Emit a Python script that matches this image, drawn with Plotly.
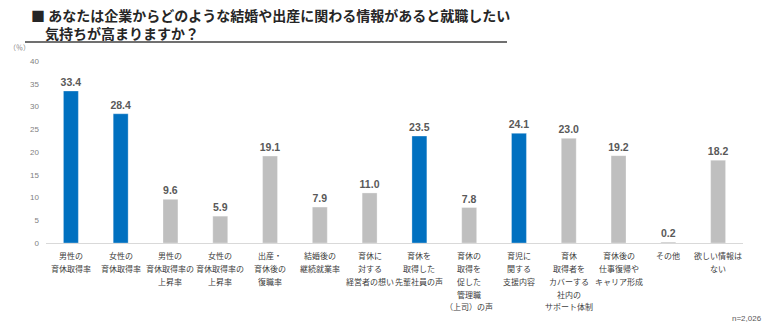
import plotly.graph_objects as go

categories = [
    "男性の\n育休取得率",
    "女性の\n育休取得率",
    "男性の\n育休取得率の\n上昇率",
    "女性の\n育休取得率の\n上昇率",
    "出産・\n育休後の\n復職率",
    "結婚後の\n継続就業率",
    "育休に\n対する\n経営者の想い",
    "育休を\n取得した\n先輩社員の声",
    "育休の\n取得を\n促した\n管理職\n（上司）の声",
    "育児に\n関する\n支援内容",
    "育休\n取得者を\nカバーする\n社内の\nサポート体制",
    "育休後の\n仕事復帰や\nキャリア形成",
    "その他",
    "欲しい情報は\nない",
]
values = [33.4, 28.4, 9.6, 5.9, 19.1, 7.9, 11.0, 23.5, 7.8, 24.1, 23.0, 19.2, 0.2, 18.2]
highlight = [True, True, False, False, False, False, False, True, False, True, False, False, False, False]
y_ticks = [0, 5, 10, 15, 20, 25, 30, 35, 40]

title_line1 = "■ あなたは企業からどのような結婚や出産に関わる情報があると就職したい"
title_line2 = "　気持ちが高まりますか？"
unit_label = "（％）"
n_label = "n=2,026"

BLUE = "#0070C0"
GRAY = "#BFBFBF"
FONT = "Noto Sans CJK JP"
NUMFONT = "Liberation Sans"
W, H = 768, 328
L, R, T, B = 46, 25, 61, 85
PW, PH = W - L - R, H - T - B


def px_x(px):
    return (px - L) / PW


def px_y(py):
    return (H - B - py) / PH


xs = list(range(len(categories)))
colors = [BLUE if h else GRAY for h in highlight]

fig = go.Figure()
fig.add_trace(go.Bar(
    x=xs, y=values,
    marker=dict(color=colors, line=dict(color="rgba(255,255,255,0.6)", width=0.5)),
    text=[f"<b>{v:.1f}</b>" for v in values],
    textposition="outside",
    textfont=dict(family=NUMFONT, size=10.5, color="#595959"),
    cliponaxis=False,
    width=0.3,
    hoverinfo="skip",
))

annotations = []
for i, cat in enumerate(categories):
    for j, line in enumerate(cat.split("\n")):
        annotations.append(dict(
            x=i, xref="x", y=0, yref="paper",
            text=line, showarrow=False,
            xanchor="center", yanchor="middle",
            yshift=-12.5 - 12.85 * j,
            font=dict(family=FONT, size=8, color="#404040"),
        ))

annotations += [
    dict(x=px_x(29), y=px_y(24), xref="paper", yref="paper", xanchor="left", yanchor="middle",
         align="left",
         text=f"<b>{title_line1}<br>{title_line2}</b>", showarrow=False,
         font=dict(family=FONT, size=14, color="#262626")),
    dict(x=px_x(7), y=px_y(47), xref="paper", yref="paper", xanchor="left", yanchor="middle",
         text=unit_label, showarrow=False,
         font=dict(family=FONT, size=7, color="#7F7F7F")),
    dict(x=px_x(764), y=px_y(318), xref="paper", yref="paper", xanchor="right", yanchor="middle",
         text=n_label, showarrow=False,
         font=dict(family=NUMFONT, size=8, color="#595959")),
]

fig.update_layout(
    width=W, height=H,
    margin=dict(l=L, r=R, t=T, b=B),
    paper_bgcolor="white", plot_bgcolor="white",
    showlegend=False,
    bargap=0.7,
    uniformtext=dict(minsize=10, mode="show"),
    annotations=annotations,
    shapes=[dict(type="line", xref="paper", yref="paper",
                 x0=px_x(25), x1=px_x(507), y0=px_y(42), y1=px_y(42),
                 line=dict(color="#404040", width=1.5))],
    xaxis=dict(range=[-0.5, len(categories) - 0.5], showticklabels=False, showgrid=False,
               zeroline=False, showline=True, linecolor="#D9D9D9", linewidth=1, ticks=""),
    yaxis=dict(range=[0, 40], tickvals=y_ticks, showgrid=False, zeroline=False, showline=False,
               tickfont=dict(family=NUMFONT, size=8, color="#7F7F7F"), ticklabelstandoff=6),
)

fig.write_html("out.html")
